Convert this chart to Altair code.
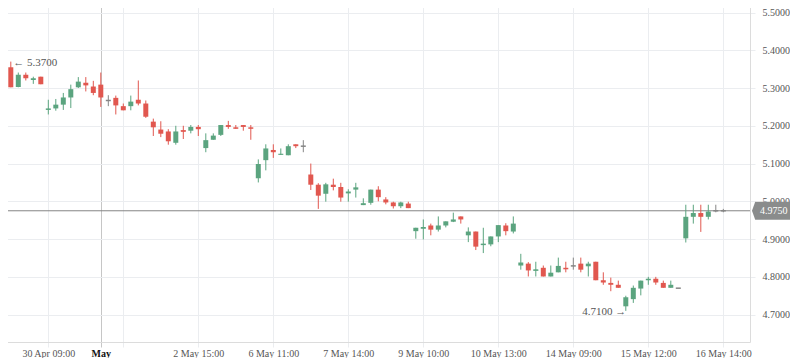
import altair as alt
import pandas as pd
import numpy as np

# ---- data ----
idx = list(range(97))
open_ = [5.359, 5.355, 5.303, 5.335, 5.321, 5.330, 5.242, 5.246, 5.256, 5.275,
         5.302, 5.314, 5.304, 5.309, 5.267, 5.274, 5.252, 5.252, 5.269, 5.259,
         5.211, 5.190, 5.185, 5.155, 5.188, 5.187, 5.197, 5.141, 5.163, 5.176,
         5.202, 5.196, 5.202, 5.196, 5.061, 5.109, 5.136, 5.123, 5.122, 5.151,
         5.146, 5.071, 5.044, 5.020, 5.044, 5.038, 5.021, 5.031, 4.990, 4.996,
         5.031, 5.005, 4.997, 4.987, 4.994, 4.921, 4.928, 4.936, 4.925, 4.936,
         4.946, 4.960, 4.910, 4.920, 4.885, 4.886, 4.907, 4.936, 4.920, 4.830,
         4.835, 4.817, 4.824, 4.801, 4.812, 4.824, 4.829, 4.835, 4.828, 4.840,
         4.791, 4.784, 4.779, 4.722, 4.741, 4.769, 4.791, 4.795, 4.784, 4.771,
         4.770, 4.902, 4.959, 4.969, 4.959, 4.975, 4.975]
high = [5.359, 5.370, 5.341, 5.341, 5.330, 5.330, 5.269, 5.271, 5.287, 5.309,
        5.329, 5.329, 5.319, 5.341, 5.281, 5.280, 5.259, 5.280, 5.320, 5.267,
        5.219, 5.212, 5.191, 5.200, 5.200, 5.202, 5.202, 5.180, 5.180, 5.202,
        5.213, 5.202, 5.202, 5.202, 5.111, 5.151, 5.151, 5.140, 5.151, 5.151,
        5.162, 5.100, 5.048, 5.049, 5.060, 5.049, 5.032, 5.049, 5.008, 5.031,
        5.040, 5.011, 4.999, 4.999, 4.999, 4.930, 4.952, 4.941, 4.960, 4.947,
        4.970, 4.960, 4.931, 4.920, 4.930, 4.907, 4.937, 4.942, 4.960, 4.861,
        4.839, 4.840, 4.830, 4.830, 4.851, 4.840, 4.851, 4.851, 4.840, 4.840,
        4.812, 4.798, 4.790, 4.750, 4.777, 4.790, 4.800, 4.800, 4.790, 4.790,
        4.770, 4.991, 4.991, 4.991, 4.991, 4.991, 4.980]
low = [5.342, 5.302, 5.302, 5.320, 5.311, 5.310, 5.230, 5.240, 5.242, 5.247,
       5.300, 5.291, 5.281, 5.250, 5.252, 5.230, 5.241, 5.241, 5.254, 5.221,
       5.173, 5.170, 5.150, 5.150, 5.165, 5.180, 5.173, 5.130, 5.163, 5.173,
       5.192, 5.192, 5.187, 5.163, 5.050, 5.082, 5.115, 5.123, 5.122, 5.141,
       5.130, 5.030, 4.980, 4.999, 5.029, 4.999, 4.999, 5.010, 4.990, 4.991,
       5.000, 4.992, 4.981, 4.982, 4.982, 4.901, 4.899, 4.910, 4.920, 4.931,
       4.945, 4.941, 4.892, 4.871, 4.863, 4.881, 4.892, 4.910, 4.915, 4.819,
       4.801, 4.801, 4.801, 4.801, 4.812, 4.812, 4.819, 4.812, 4.801, 4.791,
       4.779, 4.762, 4.771, 4.710, 4.731, 4.751, 4.779, 4.779, 4.771, 4.771,
       4.770, 4.891, 4.941, 4.919, 4.952, 4.971, 4.971]
close = [5.355, 5.302, 5.335, 5.326, 5.326, 5.310, 5.246, 5.256, 5.275, 5.297,
         5.317, 5.307, 5.287, 5.275, 5.267, 5.254, 5.241, 5.264, 5.259, 5.224,
         5.196, 5.179, 5.159, 5.185, 5.186, 5.197, 5.191, 5.162, 5.174, 5.202,
         5.197, 5.192, 5.197, 5.192, 5.099, 5.140, 5.130, 5.126, 5.146, 5.146,
         5.146, 5.044, 5.015, 5.045, 5.038, 5.010, 5.026, 5.037, 4.995, 5.031,
         5.011, 4.997, 4.987, 4.997, 4.982, 4.930, 4.930, 4.925, 4.936, 4.947,
         4.952, 4.952, 4.920, 4.880, 4.886, 4.907, 4.937, 4.921, 4.941, 4.838,
         4.817, 4.818, 4.801, 4.811, 4.829, 4.820, 4.829, 4.819, 4.835, 4.791,
         4.785, 4.779, 4.771, 4.746, 4.771, 4.790, 4.795, 4.785, 4.771, 4.779,
         4.770, 4.959, 4.969, 4.959, 4.973, 4.975, 4.975]

tick_idx = [6, 13, 16, 26, 36, 46, 56, 66, 76, 86, 96]
tick_labels = ["30 Apr 09:00", "May", "", "2 May 15:00", "6 May 11:00",
               "7 May 14:00", "9 May 10:00", "10 May 13:00", "14 May 09:00",
               "15 May 12:00", "16 May 14:00"]
month_idx = 13
price_ticks = [4.7, 4.8, 4.9, 5.0, 5.1, 5.2, 5.3, 5.4, 5.5]
last_price = 4.975
hi_idx, hi_val = 1, 5.37
lo_idx, lo_val = 83, 4.71

# ---- tables ----
o = np.array(open_); c = np.array(close)
df = pd.DataFrame({"i": idx, "open": open_, "high": high, "low": low, "close": close})
df["dir"] = np.where(c > o, "up", np.where(c < o, "down", "flat"))

GREEN, RED, GRAY = "#5ba47f", "#e1574f", "#858585"
FONT = "Liberation Serif"

xs = alt.Scale(domain=[-0.44, 99.56], nice=False, zero=False)
ys = alt.Scale(domain=[4.6275, 5.5331], nice=False, zero=False)
cs = alt.Scale(domain=["up", "down", "flat"], range=[GREEN, RED, GRAY])

expr = "''"
for v, lab in zip(tick_idx, tick_labels):
    expr = f"datum.value == {v} ? '{lab}' : ({expr})"

is_month = f"datum.value == {month_idx}"
xaxis = alt.Axis(
    values=tick_idx, labelExpr=expr, title=None, grid=True,
    gridColor={"condition": {"test": is_month, "value": "#c6c6c6"}, "value": "#ebedf0"},
    tickColor={"condition": {"test": is_month, "value": "#c6c6c6"}, "value": "#ebedf0"},
    tickSize=5, domainColor="#dcdcdc",
    labelFont=FONT, labelFontSize=10,
    labelColor={"condition": {"test": is_month, "value": "#111111"}, "value": "#555555"},
    labelFontWeight={"condition": {"test": is_month, "value": "bold"}, "value": "normal"},
    labelPadding=1, labelOverlap=False, labelFlush=False,
)
yaxis = alt.Axis(
    orient="right", values=price_ticks, format=".4f", title=None, grid=True,
    gridColor="#ebedf0", tickColor="#ebedf0", tickSize=5, domainColor="#dcdcdc",
    labelFont=FONT, labelFontSize=10, labelColor="#555555", labelPadding=7,
)

base = alt.Chart(df)
col = alt.Color("dir:N", scale=cs, legend=None)

wicks = base.mark_rule(strokeWidth=1).encode(
    x=alt.X("i:Q", scale=xs, axis=xaxis),
    y=alt.Y("low:Q", scale=ys, axis=yaxis),
    y2="high:Q",
    color=col,
)
bodies = base.transform_calculate(
    x0="datum.i - 0.333", x1="datum.i + 0.333"
).mark_rect().encode(
    x=alt.X("x0:Q", scale=xs, axis=xaxis), x2="x1:Q",
    y=alt.Y("open:Q", scale=ys, axis=yaxis), y2="close:Q",
    color=col,
)
flat = base.transform_filter(
    "abs(datum.close - datum.open) < 0.003"
).transform_calculate(
    x0="datum.i - 0.333", x1="datum.i + 0.333"
).mark_rule(strokeWidth=1.5).encode(
    x=alt.X("x0:Q", scale=xs, axis=xaxis), x2="x1:Q",
    y=alt.Y("close:Q", scale=ys, axis=yaxis),
    color=col,
)

pdf = pd.DataFrame({"p": [last_price]})
pline = alt.Chart(pdf).mark_rule(color="#858585", strokeWidth=1).encode(
    y=alt.Y("p:Q", scale=ys, axis=yaxis), x=alt.value(0), x2=alt.value(750)
)
badge_path = "M -1 0 L -0.86 -0.39 L 1 -0.39 L 1 0.39 L -0.86 0.39 Z"
badge = alt.Chart(pdf).mark_point(
    shape=badge_path, size=2116, filled=True, color="#8a8c8c", opacity=1, strokeWidth=0
).encode(y=alt.Y("p:Q", scale=ys, axis=yaxis), x=alt.value(775))
badge_text = alt.Chart(pdf).mark_text(
    align="left", baseline="middle", color="white", font=FONT, fontSize=10
).encode(y=alt.Y("p:Q", scale=ys, axis=yaxis), x=alt.value(760),
         text=alt.Text("p:Q", format=".4f"))

hi_df = pd.DataFrame({"i": [hi_idx], "v": [hi_val]})
lo_df = pd.DataFrame({"i": [lo_idx], "v": [lo_val]})
hi_text = alt.Chart(hi_df).transform_calculate(
    lab="'\u2190 ' + format(datum.v, '.4f')"
).mark_text(align="left", baseline="middle", dx=2.5, dy=1, color="#555555",
            font=FONT, fontSize=11).encode(
    x=alt.X("i:Q", scale=xs, axis=xaxis), y=alt.Y("v:Q", scale=ys, axis=yaxis), text="lab:N"
)
lo_text = alt.Chart(lo_df).transform_calculate(
    lab="format(datum.v, '.4f') + ' \u2192'"
).mark_text(align="right", baseline="middle", dx=0.5, dy=1, color="#555555",
            font=FONT, fontSize=11).encode(
    x=alt.X("i:Q", scale=xs, axis=xaxis), y=alt.Y("v:Q", scale=ys, axis=yaxis), text="lab:N"
)

chart = alt.layer(
    pline, wicks, bodies, flat, badge, badge_text, hi_text, lo_text
).properties(
    width=750, height=342,
    autosize=alt.AutoSizeParams(type="none"),
    padding={"left": -8, "top": -8, "right": 40, "bottom": 16},
    background="white",
).configure_view(stroke=None)

chart.save("out.html", embed_options={"renderer": "svg", "actions": False})
